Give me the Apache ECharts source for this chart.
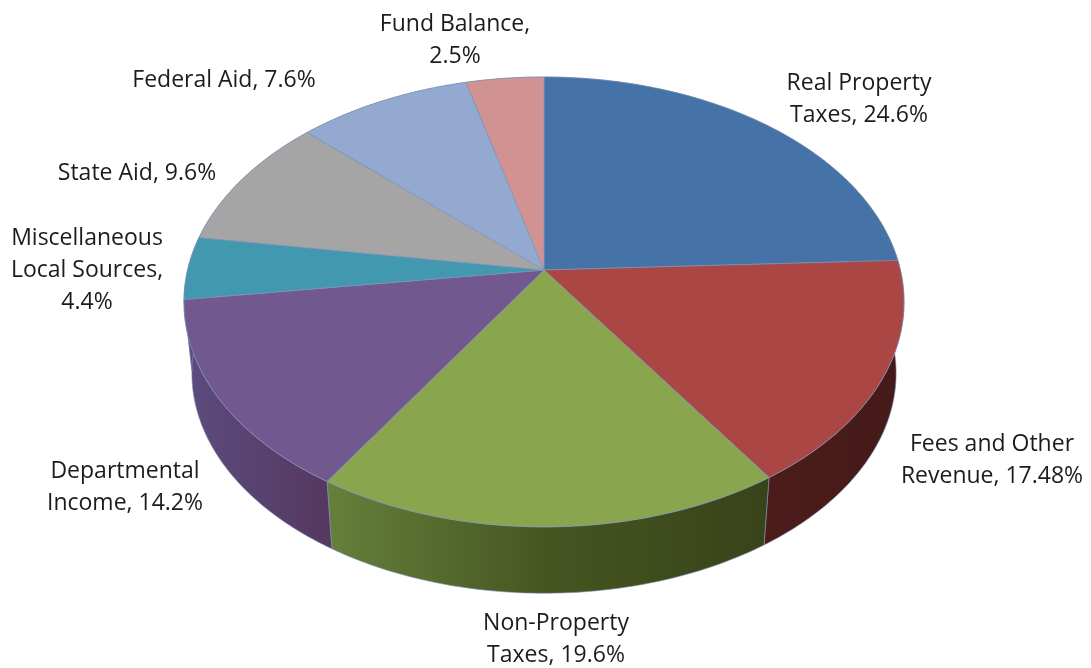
<!DOCTYPE html>
<html>
<head>
<meta charset="utf-8">
<style>html,body{margin:0;padding:0;background:#fff}#c{width:1091px;height:668px}</style>
<script src="https://cdn.jsdelivr.net/npm/echarts@6/dist/echarts.min.js"></script>
</head>
<body>
<div id="c"></div>
<script>
// Slice shares as drawn in the picture (percent of the full turn, clockwise from 12 o'clock)
var categories = ['Real Property Taxes','Fees and Other Revenue','Non-Property Taxes','Departmental Income','Miscellaneous Local Sources','State Aid','Federal Aid','Fund Balance'];
var sliceShares = [24.3,16.3,18.4,13.9,4.5,9.6,9.0,4.0];
// Label text exactly as printed
var labelLines = [
  ['Real Property','Taxes, 24.6%'],
  ['Fees and Other','Revenue, 17.48%'],
  ['Non-Property','Taxes, 19.6%'],
  ['Departmental','Income, 14.2%'],
  ['Miscellaneous','Local Sources,','4.4%'],
  ['State Aid, 9.6%'],
  ['Federal Aid, 7.6%'],
  ['Fund Balance,','2.5%']
];
var topColors = ['#4573a7','#aa4643','#89a54e','#71588f','#4198af','#a5a5a5','#93a9cf','#d19392'];
var wallColors = [
  ['#4c1c1a','#4c1c1a'],['#4c1c1a','#441a18'],['#66803c','#465520','#38431a'],['#5c4c7e','#55385f'],
  ['#5c4c7e','#5c4c7e'],['#7c7c7c','#7c7c7c'],['#6e7f9b','#6e7f9b'],['#9c6e6d','#9c6e6d']
];
var labelAnchors = [[859,99],[992,460],[556,639],[125,487],[87,270],[137,173],[224,80],[455,40]];

// Projection of the tilted disc
var CX=544, CY=270, A=356.4, B=220.4, P=0.142, WALL_DROP=72, WALL_SCALE=0.978, LINE_H=32;
var total = sliceShares.reduce(function(s,v){return s+v;},0);
function startAngle(i){var s=0;for(var k=0;k<i;k++)s+=sliceShares[k];return s/total*2*Math.PI;}
function project(t,scale,drop){
  var u=Math.sin(t),v=Math.cos(t),d=1+P*v;
  return [CX+A*scale*u/d, CY+drop-B*scale*v/d];
}
function arc(t0,t1,scale,drop){
  var n=Math.max(2,Math.ceil((t1-t0)/0.015)),pts=[];
  for(var i=0;i<=n;i++)pts.push(project(t0+(t1-t0)*i/n,scale,drop));
  return pts;
}
function sweep(api,i){var t0=startAngle(i);return [t0,t0+api.value(0)/total*2*Math.PI];}

function renderWall(params,api){
  var i=params.dataIndex,s=sweep(api,i),cols=wallColors[i];
  var pts=arc(s[0],s[1],1,0).concat(arc(s[0],s[1],WALL_SCALE,WALL_DROP).reverse());
  var stops=cols.map(function(c,k){return {offset:k/(cols.length-1),color:c};});
  return {type:'polygon',shape:{points:pts},style:{
    fill:new echarts.graphic.LinearGradient(0,0,1,0,stops),
    stroke:'rgba(125,147,184,0.6)',lineWidth:1}};
}
function renderTop(params,api){
  var i=params.dataIndex,s=sweep(api,i);
  var pts=[[CX,CY]].concat(arc(s[0],s[1],1,0));
  return {type:'polygon',shape:{points:pts},style:{fill:topColors[i],stroke:'rgba(125,147,184,0.7)',lineWidth:1}};
}
function renderLabel(params,api){
  var i=params.dataIndex,a=labelAnchors[i];
  return {type:'text',x:a[0],y:a[1],style:{
    text:labelLines[i].join('\n'),x:0,y:0,align:'center',verticalAlign:'middle',
    fontFamily:'"Open Sans", Lato, sans-serif',fontSize:23,lineHeight:LINE_H,fill:'#1c1c1c'}};
}
var seriesData = sliceShares.map(function(v,i){return {name:categories[i],value:v};});
var chart = echarts.init(document.getElementById('c'),null,{renderer:'canvas'});
chart.setOption({
  animation:false,
  backgroundColor:'#ffffff',
  series:[
    {type:'custom',coordinateSystem:'none',silent:true,z:1,data:seriesData,renderItem:renderWall},
    {type:'custom',coordinateSystem:'none',silent:true,z:2,data:seriesData,renderItem:renderTop},
    {type:'custom',coordinateSystem:'none',silent:true,z:3,data:seriesData,renderItem:renderLabel}
  ]
});
</script>
</body>
</html>
